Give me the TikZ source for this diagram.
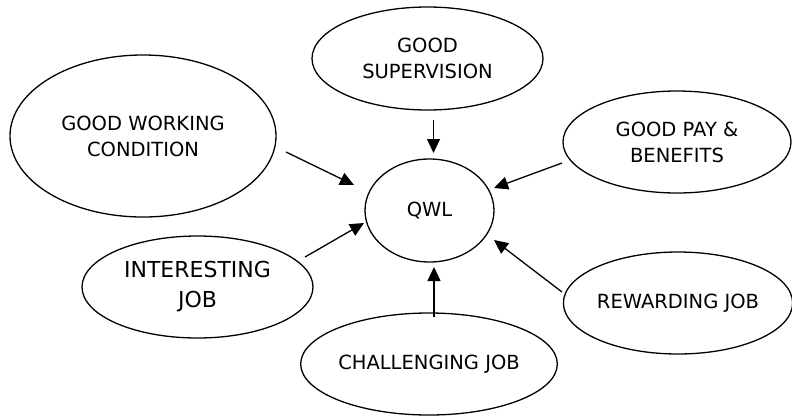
\documentclass[tikz,border=0pt]{standalone}
\usepackage{fontspec}
\setmainfont{DejaVu Sans}
\usetikzlibrary{shapes.geometric,arrows.meta,calc}
\begin{document}
\begin{tikzpicture}[x=1pt,y=-1pt,
  bubble/.style={draw,ellipse,line width=1.3pt,inner sep=0pt,align=center,
    font=\fontsize{19.5}{26}\selectfont},
  arr/.style={line width=1.3pt,-{Triangle[length=14pt,width=13pt]}}]
\useasboundingbox (0,0) rectangle (792,416);
\node[bubble,minimum width=231pt,minimum height=103pt] (gs) at (427.5,58.5) {GOOD\\SUPERVISION};
\node[bubble,minimum width=266pt,minimum height=162pt] (gwc) at (143,136) {GOOD WORKING\\CONDITION};
\node[bubble,minimum width=228pt,minimum height=102pt] (gpb) at (677,142) {GOOD PAY \&\\BENEFITS};
\node[bubble,minimum width=129pt,minimum height=103pt] (qwl) at (429.5,210.5) {QWL};
\node[bubble,minimum width=231pt,minimum height=102pt,font=\fontsize{22}{30}\selectfont] (ij) at (197.5,287) {INTERESTING\\JOB};
\node[bubble,minimum width=250pt,minimum height=102pt] (cj) at (429,364) {CHALLENGING JOB};
\node[bubble,minimum width=226pt,minimum height=102pt] (rj) at (678,303) {REWARDING JOB};
\draw[arr] ($(gs)+(6,61.5)$) -- ($(qwl)+(4,-57.5)$);
\draw[arr] ($(gwc)+(143,16)$) -- ($(qwl)+(-75.5,-25.5)$);
\draw[arr] ($(gpb)+(-115,21)$) -- ($(qwl)+(64.5,-22.5)$);
\draw[arr] ($(ij)+(107.5,-30)$) -- ($(qwl)+(-65.5,12.5)$);
\draw[arr] ($(cj)+(5,-47)$) -- ($(qwl)+(4.5,56.5)$);
\draw[arr] ($(rj)+(-116,-11)$) -- ($(qwl)+(64.5,29.5)$);
\end{tikzpicture}
\end{document}
